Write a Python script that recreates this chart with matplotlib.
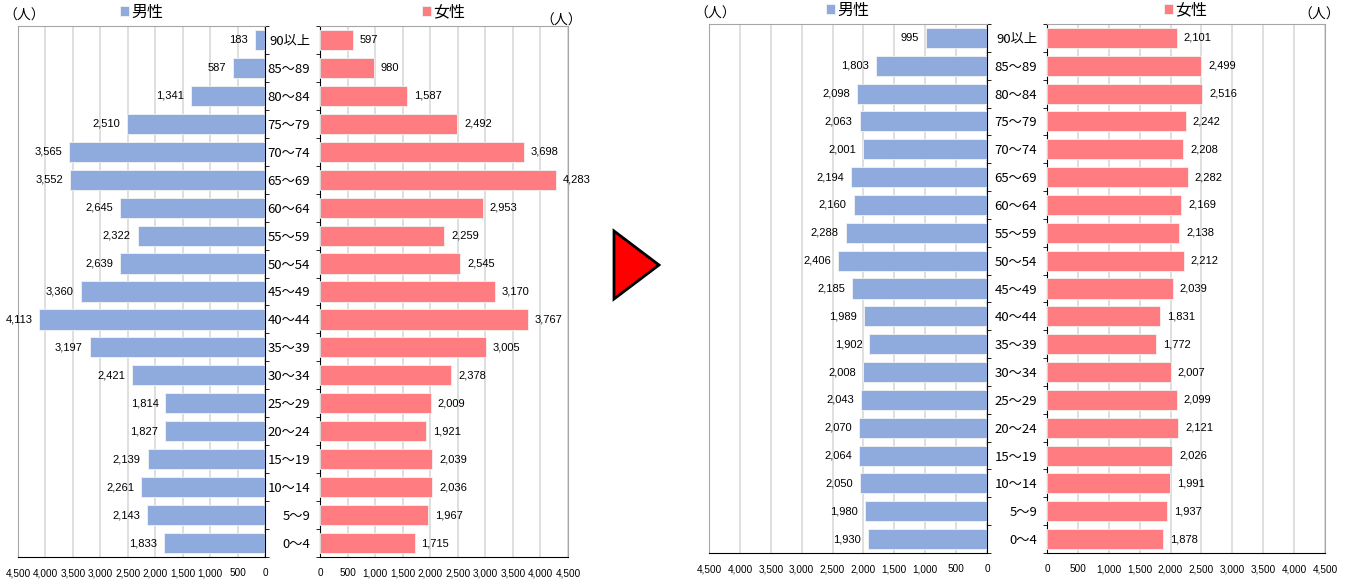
import matplotlib
matplotlib.use("Agg")
import matplotlib.pyplot as plt
from matplotlib.patches import Polygon
from matplotlib.ticker import FuncFormatter, MultipleLocator
import numpy as np

plt.rcParams['font.family'] = ['Noto Sans CJK JP', 'DejaVu Sans']

ages = ["0～4", "5～9", "10～14", "15～19", "20～24", "25～29", "30～34", "35～39",
        "40～44", "45～49", "50～54", "55～59", "60～64", "65～69", "70～74", "75～79",
        "80～84", "85～89", "90以上"]

# left pyramid (before)
male_a = [1833, 2143, 2261, 2139, 1827, 1814, 2421, 3197, 4113, 3360, 2639, 2322,
          2645, 3552, 3565, 2510, 1341, 587, 183]
female_a = [1715, 1967, 2036, 2039, 1921, 2009, 2378, 3005, 3767, 3170, 2545, 2259,
            2953, 4283, 3698, 2492, 1587, 980, 597]

# right pyramid (after)
male_b = [1930, 1980, 2050, 2064, 2070, 2043, 2008, 1902, 1989, 2185, 2406, 2288,
          2160, 2194, 2001, 2063, 2098, 1803, 995]
female_b = [1878, 1937, 1991, 2026, 2121, 2099, 2007, 1772, 1831, 2039, 2212, 2138,
            2169, 2282, 2208, 2242, 2516, 2499, 2101]

blue = "#8FAADC"
pink = "#FF7C80"
W, H = 1354, 588
num_font = ['Liberation Sans', 'DejaVu Sans']

fig = plt.figure(figsize=(W / 100, H / 100), dpi=100)


def rect(x0, x1, y0, y1):
    return [x0 / W, 1 - y1 / H, (x1 - x0) / W, (y1 - y0) / H]


def side(ax, vals, color, label, male):
    y = np.arange(len(ages))
    ax.barh(y, vals, height=0.72, color=color, edgecolor="#F2F2F2", linewidth=0.6,
            label=label, zorder=3)
    ax.set_xlim(4500, 0) if male else ax.set_xlim(0, 4500)
    ax.set_ylim(-0.5, len(ages) - 0.5)
    ax.xaxis.set_major_locator(MultipleLocator(500))
    ax.xaxis.set_major_formatter(FuncFormatter(lambda v, p: f"{int(v):,}"))
    ax.grid(axis="x", color="#D9D9D9", linewidth=1.2, zorder=0)
    ax.tick_params(axis="x", length=0, pad=8)
    for t in ax.get_xticklabels():
        t.set_family(num_font)
        t.set_fontsize(7.2)
    ax.set_yticks(y)
    ax.set_yticks(np.arange(len(ages) + 1) - 0.5, minor=True)
    if male:
        ax.set_yticklabels([])
        ax.tick_params(axis="y", which="major", length=0, left=False)
        ax.tick_params(axis="y", which="minor", length=3, left=False, right=True,
                       direction="out")
        for s in ("left", "top"):
            ax.spines[s].set_color("#A6A6A6")
        for s in ("right", "bottom"):
            ax.spines[s].set_color("black")
    else:
        ax.set_yticklabels(ages, fontsize=9.5)
        ax.tick_params(axis="y", which="major", length=0, pad=7)
        ax.tick_params(axis="y", which="minor", length=3, direction="out")
        for s in ("right", "top"):
            ax.spines[s].set_color("#A6A6A6")
        for s in ("left", "bottom"):
            ax.spines[s].set_color("black")
    for yi, v in zip(y, vals):
        ax.annotate(f"{v:,}", (v, yi), xytext=(-5 if male else 5, 0),
                    textcoords="offset points", ha="right" if male else "left",
                    va="center", fontsize=8, family=num_font)
    ax.legend(loc="lower center", bbox_to_anchor=(0.5, 0.995), frameon=False,
              handlelength=0.55, handleheight=0.55, handletextpad=0.15,
              fontsize=11.5, borderaxespad=0.1)


ax1 = fig.add_axes(rect(18, 265, 26, 557))
side(ax1, male_a, blue, "男性", True)
ax2 = fig.add_axes(rect(320, 568, 26, 557))
side(ax2, female_a, pink, "女性", False)
ax3 = fig.add_axes(rect(709, 987, 24, 553))
side(ax3, male_b, blue, "男性", True)
ax4 = fig.add_axes(rect(1047, 1325, 24, 553))
side(ax4, female_b, pink, "女性", False)

# unit labels
for x, y in [(24, 16), (561, 21), (715, 14), (1319, 15)]:
    fig.text(x / W, 1 - y / H, "（人）", ha="center", va="center", fontsize=10)

# arrow between the two pyramids
tri = Polygon([[614 / W, 1 - 231 / H], [614 / W, 1 - 299 / H], [659 / W, 1 - 265 / H]],
              closed=True, facecolor="#FF0000", edgecolor="black", linewidth=2,
              transform=fig.transFigure)
fig.patches.append(tri)

fig.savefig("out.png", dpi=100)
